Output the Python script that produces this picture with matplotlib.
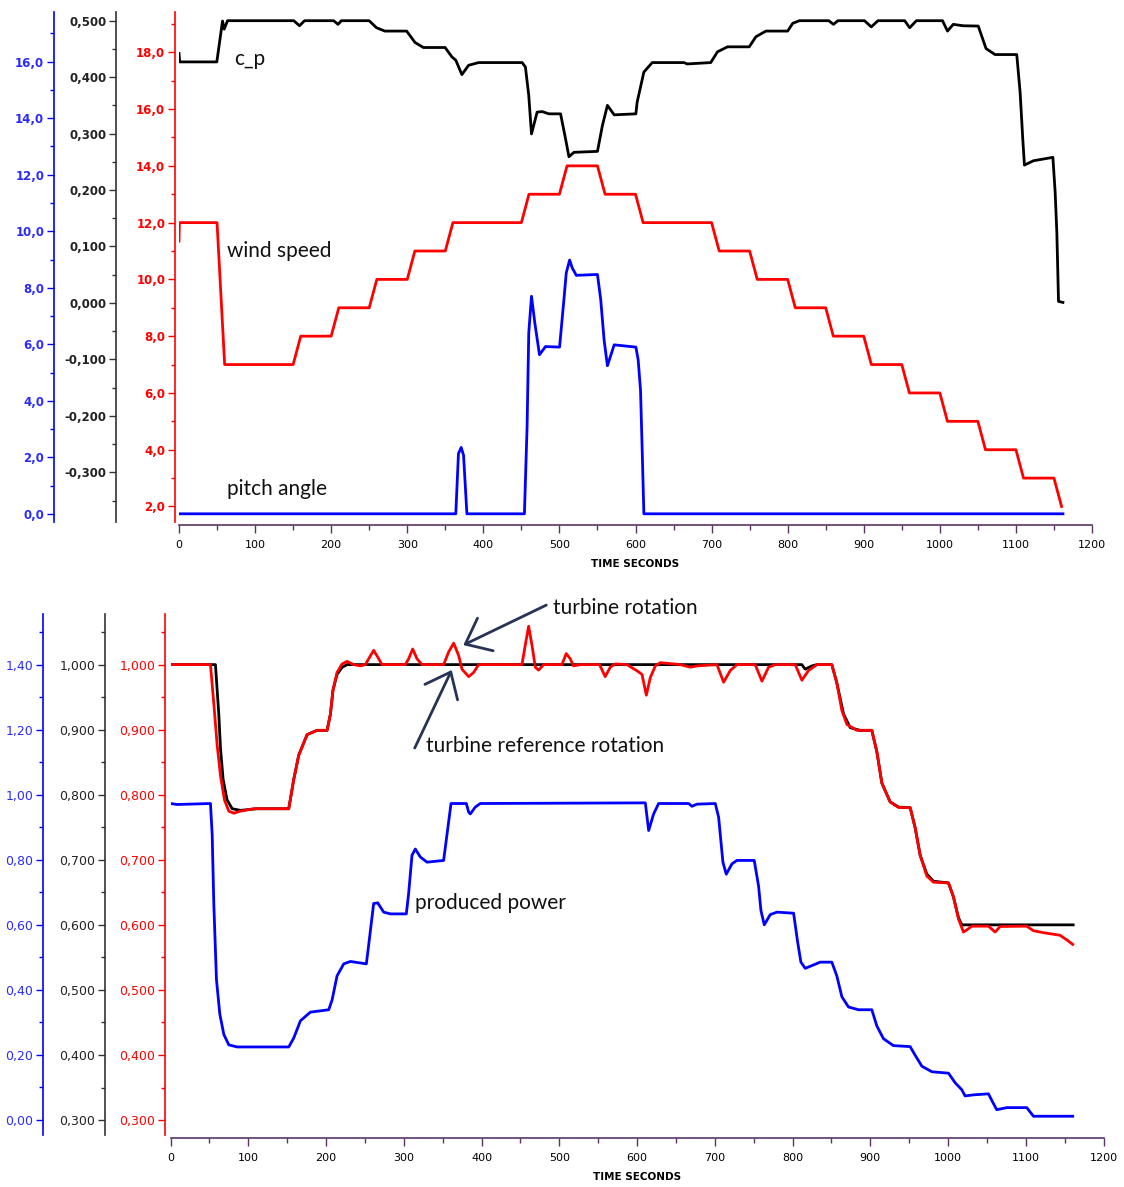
import matplotlib
matplotlib.use("Agg")
import matplotlib.pyplot as plt
from matplotlib.ticker import FuncFormatter, MultipleLocator, FixedLocator

# ---- top panel data (time in s) ----
wind_t = [0, 0.5, 50, 60, 150, 160, 200, 210, 250, 260, 300, 310, 350, 360, 450, 460,
          500, 510, 550, 560, 600, 610, 700, 710, 750, 760, 800, 810, 850, 860, 900, 910,
          950, 960, 1000, 1010, 1050, 1060, 1100, 1110, 1150, 1160]
wind_v = [11.35, 12, 12, 7, 7, 8, 8, 9, 9, 10, 10, 11, 11, 12, 12, 13,
          13, 14, 14, 13, 13, 12, 12, 11, 11, 10, 10, 9, 9, 8, 8, 7,
          7, 6, 6, 5, 5, 4, 4, 3, 3, 2]

cp_t = [0, 0.9, 49.7, 54, 57.2, 59.4, 63.8, 150.9, 158.4, 165, 203.3, 209, 213.4, 249.9,
        259.6, 270.6, 299.2, 310.2, 321.2, 349.8, 358.6, 363.8, 371.8, 380.6, 393.8, 451,
        455.3, 459.7, 463.3, 470.7, 477.3, 486.1, 501.5, 508.1, 512.5, 519.1, 550, 556.5,
        563.1, 572, 600.5, 602.2, 611, 622, 663.7, 668, 698.9, 707.7, 720.9, 749.5, 758.2,
        771.4, 800, 806.6, 815.4, 854, 860.2, 866, 901, 909.9, 918.7, 953.8, 960.4, 969.2,
        1003.5, 1010.1, 1017.6, 1030.8, 1050.5, 1060.7, 1072.5, 1101.1, 1105.5, 1109,
        1111.2, 1123.1, 1148.6, 1151.6, 1153.8, 1156, 1161.8]
cp_v = [0.442, 0.427, 0.427, 0.4685, 0.4994, 0.485, 0.5, 0.5, 0.491, 0.5, 0.5, 0.4935, 0.5,
        0.5, 0.4875, 0.4816, 0.4816, 0.4614, 0.4525, 0.4525, 0.436, 0.43, 0.4045, 0.421,
        0.4258, 0.4258, 0.418, 0.3677, 0.2994, 0.338, 0.339, 0.335, 0.335, 0.2905, 0.259,
        0.2668, 0.2685, 0.3142, 0.35, 0.3332, 0.335, 0.356, 0.409, 0.4258, 0.4258, 0.4234,
        0.4258, 0.4448, 0.4537, 0.4537, 0.4715, 0.4816, 0.4816, 0.4953, 0.5, 0.5, 0.4935,
        0.5, 0.5, 0.489, 0.5, 0.5, 0.4875, 0.5, 0.5, 0.4816, 0.4935, 0.491, 0.4905, 0.4507,
        0.44, 0.44, 0.3736, 0.2905, 0.2442, 0.2519, 0.2579, 0.1955, 0.1243, 0.0027, 0.0009]

pitch_t = [0, 363.8, 367.3, 370.9, 374, 378.4, 454, 457.5, 459.7, 463.3, 467.7, 473.8,
           481.7, 500.2, 505.9, 509, 513.4, 516.9, 522.2, 550, 554.3, 558.7, 563.1, 572,
           600.5, 603.5, 606.6, 608.8, 611, 1161.8]
pitch_v = [0, 0, 2.13, 2.35, 2.07, 0, 0, 3.08, 6.4, 7.7, 6.75, 5.63,
           5.92, 5.9, 7.58, 8.53, 8.98, 8.7, 8.44, 8.47, 7.58, 6.16, 5.24, 5.98,
           5.9, 5.45, 4.38, 2.25, 0, 0]

# ---- bottom panel data ----
ref_t = [0, 57.8, 62.1, 64.3, 67.7, 72.8, 79.3, 90, 111.4, 152.1, 158.5, 165, 175.7, 188.5,
         201.4, 205.7, 209, 214.2, 220.7, 227, 812, 816.3, 825, 831.4, 850.6, 857, 865.7,
         874.3, 887, 902, 908.5, 914.9, 925.6, 936.4, 951.4, 957.8, 964.2, 972.8, 981.4,
         1000.6, 1007, 1013.5, 1017.8, 1161]
ref_v = [1.0, 1.0, 0.924, 0.871, 0.8235, 0.792, 0.7785, 0.776, 0.7785, 0.7785, 0.8235,
         0.861, 0.8924, 0.899, 0.899, 0.924, 0.961, 0.985, 0.9958, 1.0, 1.0, 0.993, 0.998,
         1.0, 1.0, 0.972, 0.924, 0.903, 0.899, 0.899, 0.866, 0.818, 0.789, 0.781, 0.78,
         0.749, 0.707, 0.678, 0.667, 0.6645, 0.643, 0.611, 0.6, 0.6]

rot_t = [0, 51.4, 55.7, 60, 64.3, 69.4, 75, 81.4, 90, 107.1, 152.1, 158.5, 165, 175.7,
         188.5, 201.4, 205.7, 209, 214.2, 220.7, 227, 235.6, 244.2, 250.6, 254.9, 261.3,
         267.8, 272, 302, 306.3, 311.5, 317, 323.5, 351.3, 357.8, 364.2, 370.6, 374.9,
         383.5, 389.9, 396.3, 452, 456.3, 460.6, 464.9, 469.2, 473.4, 479.9, 503.4, 509,
         514.1, 518.4, 527, 551.8, 559.1, 565.6, 572, 587, 600, 606.4, 612, 617.1, 623.6,
         630, 655.7, 668.6, 677, 702.8, 711.4, 720, 728.5, 752, 760.7, 769.2, 777.8, 803.5,
         812.1, 820.6, 831.4, 850.6, 857, 863.5, 870, 882.8, 902, 908.5, 914.9, 925.6,
         936.4, 951.4, 957.8, 964.2, 972.8, 981.4, 1000.6, 1007, 1013.5, 1019.9, 1025,
         1030.6, 1052, 1060.6, 1067, 1101.3, 1109.9, 1122.7, 1144.1, 1152.7, 1160.4]
rot_v = [1.0, 1.0, 0.94, 0.8765, 0.829, 0.792, 0.7748, 0.7716, 0.7748, 0.7785, 0.7785,
         0.8235, 0.861, 0.8924, 0.899, 0.899, 0.924, 0.961, 0.988, 1.001, 1.005, 1.0, 0.998,
         1.0, 1.009, 1.022, 1.009, 1.0, 1.0, 1.009, 1.024, 1.009, 1.0, 1.0, 1.0196, 1.033,
         1.014, 0.993, 0.9815, 0.988, 1.0, 1.0, 1.03, 1.059, 1.03, 0.996, 0.9915, 1.0, 1.0,
         1.017, 1.009, 0.998, 1.0, 1.0, 0.9815, 0.996, 1.001, 1.0, 0.9905, 0.985, 0.953,
         0.98, 0.998, 1.003, 1.0, 0.996, 0.998, 1.0, 0.973, 0.991, 1.0, 1.0, 0.9746, 0.996,
         1.0, 1.0, 0.976, 0.991, 1.0, 1.0, 0.972, 0.9295, 0.908, 0.899, 0.899, 0.866, 0.818,
         0.789, 0.7805, 0.78, 0.749, 0.707, 0.675, 0.6655, 0.6645, 0.643, 0.609, 0.589,
         0.593, 0.598, 0.598, 0.589, 0.5975, 0.598, 0.591, 0.588, 0.584, 0.577, 0.570]

power_t = [0, 8.6, 51.4, 53.6, 55.7, 59.1, 63.4, 68.6, 75, 85.7, 152.1, 158.5, 167.1, 179.9,
           203.5, 207.8, 214.2, 222.8, 231.4, 251.9, 254.9, 261.3, 266.5, 274.2, 282.8,
           303.3, 306.3, 310.6, 314.9, 321.3, 329.9, 351.3, 355.6, 360.8, 380.5, 383.5,
           385.6, 392, 398.5, 610.7, 615, 621.4, 627.8, 666.4, 670.7, 677, 700.7, 705,
           710.5, 714.8, 722.1, 728.5, 750.8, 756.4, 759.4, 763.7, 771.4, 780, 801.4, 806.5,
           810.8, 816.4, 827.1, 835.6, 850.6, 857, 863.5, 872, 884.9, 902, 908.5, 917, 929.7,
           951.3, 957.8, 966.4, 979.3, 1000.6, 1009.2, 1017.7, 1022, 1032.7, 1052, 1058.4,
           1062.7, 1075.6, 1101.3, 1109.9, 1160.4]
power_v = [0.973, 0.97, 0.973, 0.8775, 0.6655, 0.432, 0.326, 0.263, 0.231, 0.2246, 0.2246,
           0.252, 0.305, 0.3316, 0.339, 0.3687, 0.443, 0.48, 0.4874, 0.48, 0.5383, 0.6655,
           0.6676, 0.639, 0.6337, 0.6337, 0.697, 0.8139, 0.833, 0.8086, 0.7927, 0.798,
           0.8775, 0.973, 0.973, 0.9464, 0.941, 0.962, 0.973, 0.975, 0.89, 0.941, 0.973,
           0.973, 0.9644, 0.971, 0.973, 0.9305, 0.7927, 0.7556, 0.7874, 0.798, 0.798, 0.7185,
           0.6443, 0.6, 0.6316, 0.639, 0.6358, 0.549, 0.4853, 0.4663, 0.4768, 0.4853,
           0.4853, 0.443, 0.379, 0.3475, 0.339, 0.339, 0.289, 0.25, 0.2288, 0.2256, 0.199,
           0.1653, 0.1483, 0.144, 0.1145, 0.0932, 0.074, 0.0773, 0.0805, 0.0508, 0.0317,
           0.0381, 0.0381, 0.0116, 0.0116]

RED = "#ff0000"
BLUE = "#0000ff"
BLUE_TXT = "#2b2bff"
XCOL = "#5a3564"
ARROW = "#263356"
W, H = 1124, 1187
DPI = 100

plt.rcParams["font.family"] = ["DejaVu Sans"]
fig = plt.figure(figsize=(W / DPI, H / DPI), dpi=DPI)


def comma(fmt):
    return FuncFormatter(lambda v, p: (fmt % (round(v, 6) + 0.0)).replace(".", ","))


def px2pt(p):
    return p * 72.0 / DPI


def make_host(x0, x1, top, bottom):
    ax = fig.add_axes([x0 / W, 1 - bottom / H, (x1 - x0) / W, (bottom - top) / H])
    ax.set_xlim(0, 1200)
    for s in ["left", "right", "top"]:
        ax.spines[s].set_visible(False)
    ax.spines["bottom"].set_color(XCOL)
    ax.spines["bottom"].set_linewidth(1.2)
    ax.set_yticks([])
    ax.xaxis.set_major_locator(MultipleLocator(100))
    ax.xaxis.set_minor_locator(MultipleLocator(50))
    ax.tick_params(axis="x", which="major", length=6, width=1, color=XCOL, pad=5,
                   labelsize=8)
    ax.tick_params(axis="x", which="minor", length=3.5, width=1, color=XCOL)
    ax.set_xlabel("TIME SECONDS", fontsize=7.5, fontweight="bold", labelpad=6)
    ax.patch.set_visible(False)
    return ax


def make_y(host, ylim, bound_low, offset_px, color, txtcolor, major, minor, fmt,
           lsize, weight):
    ax = host.twinx()
    ax.set_ylim(*ylim)
    for s in ["right", "top", "bottom"]:
        ax.spines[s].set_visible(False)
    ax.spines["left"].set_visible(True)
    ax.spines["left"].set_position(("outward", px2pt(offset_px)))
    ax.spines["left"].set_color(color)
    ax.spines["left"].set_linewidth(1.2)
    ax.spines["left"].set_bounds(bound_low, ylim[1])
    ax.yaxis.set_ticks_position("left")
    ax.yaxis.set_label_position("left")
    ax.yaxis.set_major_locator(FixedLocator(major))
    ax.yaxis.set_minor_locator(FixedLocator(minor))
    ax.yaxis.set_major_formatter(comma(fmt))
    ax.tick_params(axis="y", which="major", length=5, width=1, color=color,
                   labelcolor=txtcolor, labelsize=lsize, pad=2)
    ax.tick_params(axis="y", which="minor", length=3, width=1, color=color)
    for lab in ax.get_yticklabels():
        lab.set_fontweight(weight)
    ax.patch.set_visible(False)
    return ax


def frange(a, b, step, n):
    return [round(a + i * step, 4) for i in range(n)]


# ================= top panel =================
top = make_host(179, 1092, 12, 525)
t_blue = make_y(top, (-0.396, 17.76), -0.279, 125, BLUE, BLUE_TXT,
                frange(0, 16, 2, 9), frange(1, 17, 2, 9), "%.1f", 8.5, "bold")
t_black = make_y(top, (-0.3934, 0.5154), -0.3874, 63, "#333333", "#222222",
                 frange(-0.3, 0.5, 0.1, 9), frange(-0.35, 0.45, 0.1, 9), "%.3f", 8.5, "bold")
t_red = make_y(top, (1.348, 19.42), 1.465, 4, RED, RED,
               frange(2, 18, 2, 9), frange(3, 19, 2, 9), "%.1f", 8.5, "bold")

t_blue.plot(pitch_t, pitch_v, color=BLUE, lw=2.0, solid_joinstyle="round")
t_black.plot(cp_t, cp_v, color="black", lw=2.0, solid_joinstyle="round")
t_red.plot(wind_t, wind_v, color=RED, lw=2.0, solid_joinstyle="round")

lab_font = dict(fontsize=15, family=["Lato", "DejaVu Sans"], color="#111111",
                va="center", ha="left")
t_black.text(72.6, 0.433, "c_p", **lab_font)
t_red.text(62.9, 11.0, "wind speed", **lab_font)
t_blue.text(62.9, 0.89, "pitch angle", **lab_font)

# ================= bottom panel =================
bot = make_host(170.5, 1103.5, 614, 1138)
b_blue = make_y(bot, (-0.0553, 1.5556), -0.0448, 127.5, BLUE, BLUE_TXT,
                frange(0, 1.4, 0.2, 8), frange(0.1, 1.5, 0.2, 8), "%.2f", 9, "normal")
b_black = make_y(bot, (0.2724, 1.0778), 0.2776, 65.5, "#333333", "#222222",
                 frange(0.3, 1.0, 0.1, 8), frange(0.35, 1.05, 0.1, 8), "%.3f", 9, "normal")
b_red = make_y(bot, (0.2724, 1.0778), 0.2776, 5.5, RED, RED,
               frange(0.3, 1.0, 0.1, 8), frange(0.35, 1.05, 0.1, 8), "%.3f", 9, "normal")

b_blue.plot(power_t, power_v, color=BLUE, lw=2.0, solid_joinstyle="round")
b_black.plot(ref_t, ref_v, color="black", lw=2.0, solid_joinstyle="round")
b_red.plot(rot_t, rot_v, color=RED, lw=2.0, solid_joinstyle="round")

b_red.text(492, 1.087, "turbine rotation", clip_on=False, **lab_font)
b_red.text(328.6, 0.875, "turbine reference rotation", **lab_font)
b_red.text(314.5, 0.6336, "produced power", **lab_font)

arrow_style = dict(arrowstyle="->,head_length=1.6,head_width=1.3", color=ARROW,
                   lw=2.0, mutation_scale=10, shrinkA=0, shrinkB=0)
b_red.annotate("", xy=(376.6, 1.030), xytext=(px2pt(83), px2pt(40)),
               textcoords="offset points", arrowprops=arrow_style, annotation_clip=False)
b_red.annotate("", xy=(361.7, 0.9917), xytext=(px2pt(-37), px2pt(-78)),
               textcoords="offset points", arrowprops=arrow_style, annotation_clip=False)

fig.savefig("out.png", dpi=DPI)
